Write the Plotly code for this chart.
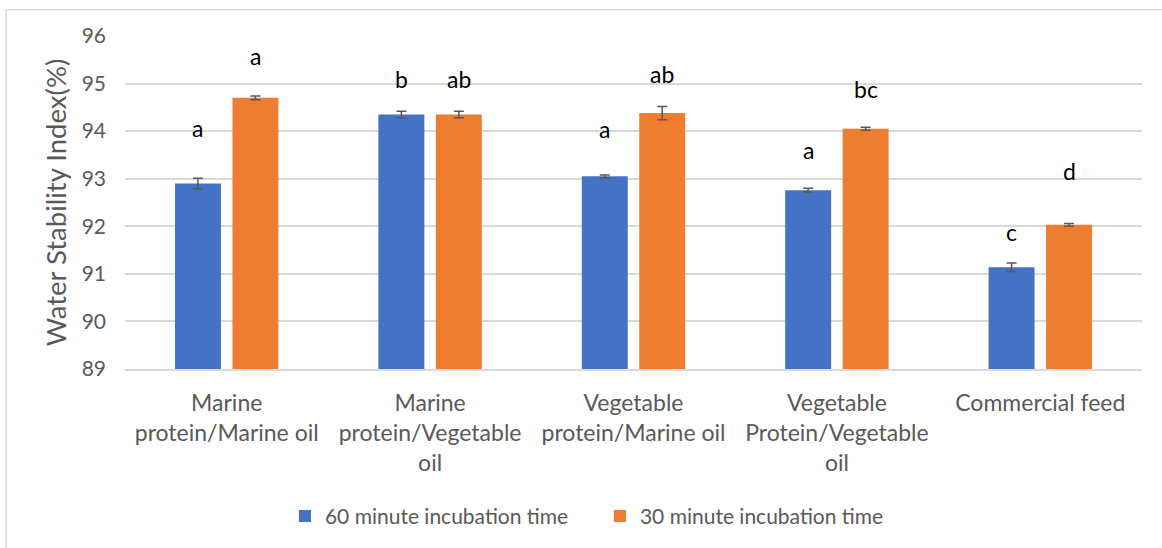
import plotly.graph_objects as go

# Feed formulations and water stability index (%) after incubation
categories = [
    "Marine<br>protein/Marine oil",
    "Marine<br>protein/Vegetable<br>oil",
    "Vegetable<br>protein/Marine oil",
    "Vegetable<br>Protein/Vegetable<br>oil",
    "Commercial feed",
]
wsi_60 = [92.90, 94.35, 93.05, 92.76, 91.14]
err_60 = [0.11, 0.07, 0.03, 0.04, 0.09]
wsi_30 = [94.70, 94.35, 94.38, 94.05, 92.03]
err_30 = [0.04, 0.07, 0.14, 0.03, 0.03]

# Significance letters and the height at which each one is written
letters_60 = ["a", "b", "a", "a", "c"]
letter_y_60 = [94.07, 95.10, 94.05, 93.60, 91.87]
letters_30 = ["a", "ab", "ab", "bc", "d"]
letter_y_30 = [95.59, 95.10, 95.20, 94.89, 93.16]

x_pos = list(range(len(categories)))
BLUE = "#4472C4"
ORANGE = "#ED7D31"
GREY = "#595959"
FONT = "Lato"

err_style = dict(type="data", color=GREY, thickness=1.5, width=5)

fig = go.Figure()
fig.add_trace(go.Bar(
    x=x_pos, y=wsi_60, name="60 minute incubation time",
    marker=dict(color=BLUE, line=dict(width=0)),
    error_y=dict(array=err_60, **err_style),
))
fig.add_trace(go.Bar(
    x=x_pos, y=wsi_30, name="30 minute incubation time",
    marker=dict(color=ORANGE, line=dict(width=0)),
    error_y=dict(array=err_30, **err_style),
))

# Offset of each bar centre from its category centre
half_slot = (1 - 0.435) / 4
annotations = []
for i in x_pos:
    annotations.append(dict(x=i - half_slot, y=letter_y_60[i], text=letters_60[i],
                            xref="x", yref="y", showarrow=False, yanchor="middle",
                            font=dict(family=FONT, size=23, color="#000000")))
    annotations.append(dict(x=i + half_slot, y=letter_y_30[i], text=letters_30[i],
                            xref="x", yref="y", showarrow=False, yanchor="middle",
                            font=dict(family=FONT, size=23, color="#000000")))

fig.update_layout(
    width=1162, height=548,
    margin=dict(l=125, r=20, t=36, b=177.5),
    paper_bgcolor="white", plot_bgcolor="white",
    barmode="group", bargap=0.435, bargroupgap=0.2,
    font=dict(family=FONT, color=GREY, size=21),
    showlegend=True,
    legend=dict(orientation="h", x=0.467, xanchor="center", y=-0.438, yanchor="middle",
                font=dict(size=21, color=GREY), itemwidth=30, entrywidth=270,
                traceorder="normal"),
    annotations=annotations,
    shapes=[dict(type="rect", xref="paper", yref="paper",
                 x0=-0.117, x1=1.3, y0=-1.0, y1=1.079,
                 line=dict(color="#d9d9d9", width=1.5), layer="below")],
)
fig.update_xaxes(
    range=[-0.5, 4.5], tickvals=x_pos, ticktext=categories,
    showgrid=False, showline=True, linecolor="#d9d9d9", linewidth=1.5,
    ticks="outside", ticklen=13, tickcolor="rgba(0,0,0,0)",
    tickfont=dict(family=FONT, size=23, color=GREY),
)
fig.update_yaxes(
    range=[89, 96], dtick=1, showgrid=True, gridcolor="#d9d9d9", gridwidth=1.5,
    zeroline=False, showline=False,
    tickfont=dict(family=FONT, size=21, color=GREY), ticklabelstandoff=18,
    title=dict(text="Water Stability Index(%)", standoff=7,
               font=dict(family=FONT, size=27.5, color=GREY)),
)

fig.write_html("out.html")
